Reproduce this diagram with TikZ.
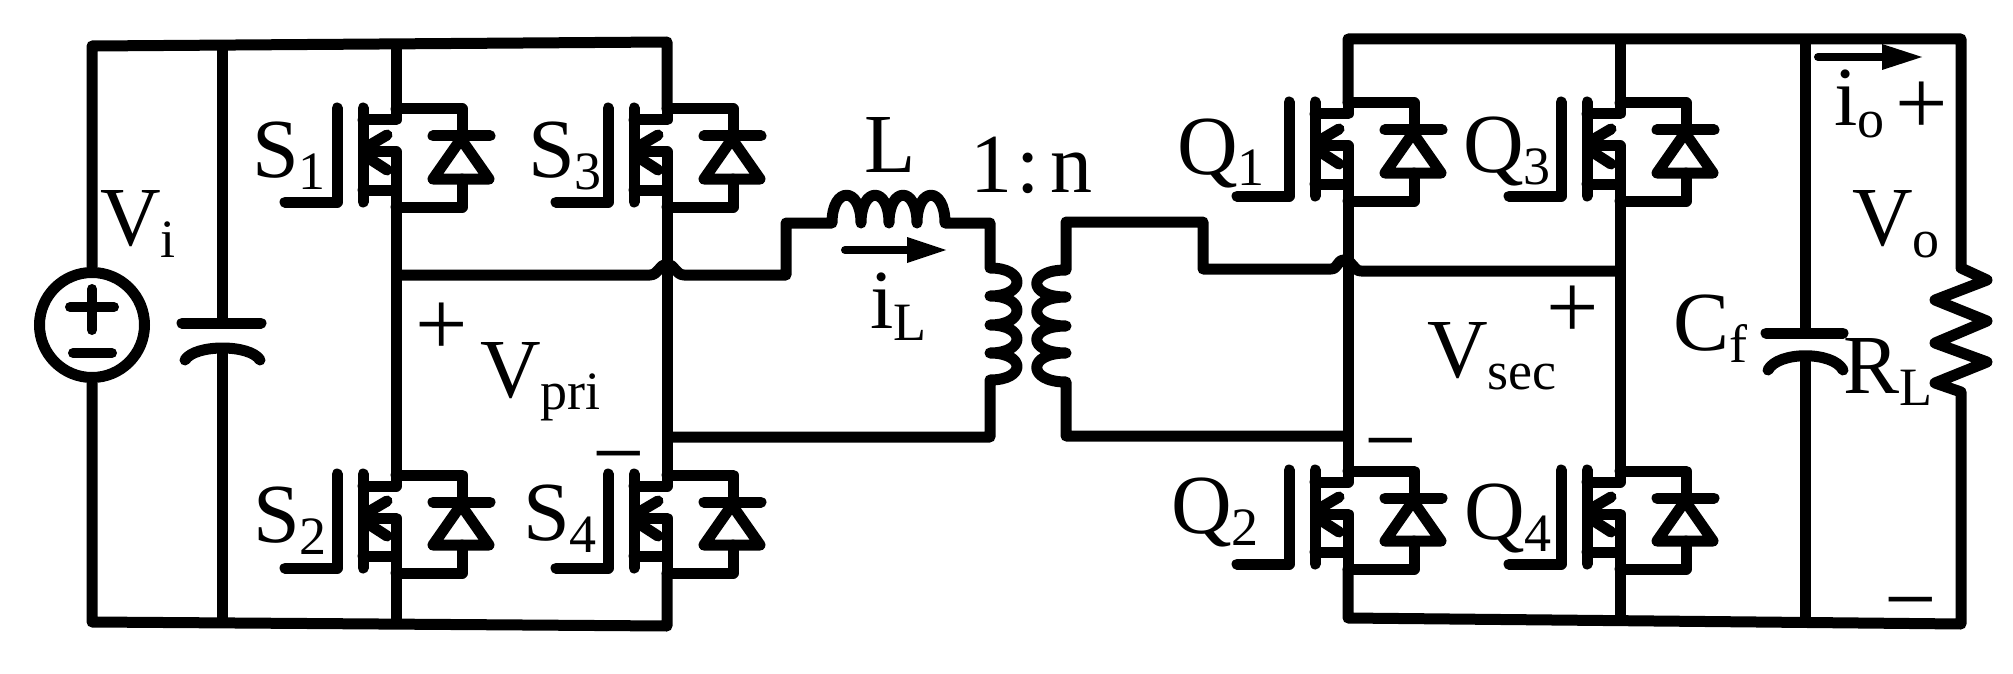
\documentclass[tikz,border=0pt]{standalone}
\usepackage{fontspec}
\setmainfont{Liberation Serif}
\newcommand\sbx[1]{\raisebox{-12pt}{\fontsize{54}{60}\selectfont #1}}
\tikzset{
  wire/.style={line width=11pt,line join=round,line cap=butt},
  rnd/.style={line width=11pt,line join=round,line cap=round},
  lbl/.style={anchor=base west,inner sep=0pt,font=\fontsize{84}{90}\selectfont},
  pol/.style={anchor=center,inner sep=0pt,font=\fontsize{93}{96}\selectfont},
  mos/.pic={
    \coordinate (-d) at (0,0);
    \coordinate (-s) at (0,98);
    % drain stub and source
    \draw[rnd] (-33,11) -- (0,11) -- (0,0);
    \draw[rnd] (0,0) -- (66,0) -- (66,27);
    \draw[rnd] (66,70) -- (66,98) -- (0,98);
    % body
    \draw[rnd] (-25,43) -- (0,43) -- (0,98);
    \draw[rnd] (-33,81) -- (0,81);
    % channel and gate
    \draw[rnd] (-33,-1) -- (-33,93);
    \draw[rnd] (-59,-1) -- (-59,93) -- (-111,93);
    % chevrons
    \draw[rnd] (-9,26) -- (-26,36);
    \draw[rnd] (-9,61) -- (-26,50);
    % diode
    \draw[rnd] (37,27) -- (94,27);
    \draw[rnd] (65,30) -- (37,70) -- (93,70) -- cycle;
  }
}
\begin{document}
\begin{tikzpicture}[x=1pt,y=-1pt]
\path[fill=white,use as bounding box] (0,0) rectangle (2013,674);

% switches
\pic (s1) at (396,109) {mos};
\pic (s3) at (667,109) {mos};
\pic (s2) at (396,475) {mos};
\pic (s4) at (667,475) {mos};
\pic (q1) at (1348,103) {mos};
\pic (q3) at (1620,103) {mos};
\pic (q2) at (1348,471) {mos};
\pic (q4) at (1620,471) {mos};

% input source
\node[circle,draw,line width=11pt,minimum size=105pt,inner sep=0pt] (vi) at (92,325) {};
\draw[rnd,line width=10pt] (70,307) -- (114,307);
\draw[rnd,line width=10pt] (92,289) -- (92,330);
\draw[rnd,line width=10pt] (73,353) -- (112,353);

% primary rails
\coordinate (lt) at (92,46);
\coordinate (lb) at (92,622);
\coordinate (rt) at (667,42);
\coordinate (rb) at (667,626);
\coordinate (ct) at (222,45);
\coordinate (cb) at (222,622);
\coordinate (cp1) at (222,323);
\coordinate (cp2) at (222,348);
\coordinate (a1) at (396,44);
\coordinate (a2) at (396,624);
\draw[wire] (vi.north) -- (lt) -- (rt) -- (s3-d);
\draw[wire] (vi.south) -- (lb) -- (rb) -- (s4-s);
\draw[wire] (ct) -- (cp1);
\draw[wire] (cb) -- (cp2);
\draw[wire] (a1) -- (s1-d);
\draw[wire] (s1-s) -- (s2-d);
\draw[wire] (s2-s) -- (a2);
\draw[wire] (s3-s) -- (s4-d);
% input capacitor
\coordinate (cp1l) at (182,323);
\coordinate (cp1r) at (261,323);
\draw[rnd] (cp1l) -- (cp1r);
\coordinate (cp2l) at (185,360);
\coordinate (cp2r) at (260,360);
\draw[rnd] (cp2l) .. controls (195,344) and (250,344) .. (cp2r);

% primary loop
\coordinate (m0) at (396,275);
\coordinate (h1) at (650,275);
\coordinate (h2) at (684,275);
\coordinate (m1) at (786,275);
\coordinate (m2) at (786,223);
\coordinate (l1) at (832,223);
\coordinate (l2) at (945,223);
\coordinate (m3) at (990,223);
\coordinate (p1) at (990,268);
\coordinate (p2) at (990,380);
\coordinate (m4) at (990,437);
\coordinate (m5) at (667,437);
\draw[wire] (m0) -- (h1)
  .. controls (658,275) and (660,264) .. (667,264)
  .. controls (674,264) and (676,275) .. (h2)
  -- (m1) -- (m2) -- (l1)
  .. controls (832,186) and (861,186) .. (861,223)
  .. controls (861,186) and (889,186) .. (889,223)
  .. controls (889,186) and (917,186) .. (917,223)
  .. controls (917,186) and (945,186) .. (l2)
  -- (m3) -- (p1)
  .. controls (1026,268) and (1026,296) .. (990,296)
  .. controls (1026,296) and (1026,325) .. (990,325)
  .. controls (1026,325) and (1026,353) .. (990,353)
  .. controls (1026,353) and (1026,380) .. (p2)
  -- (m4) -- (m5);

% secondary loop
\coordinate (t1) at (1066,270);
\coordinate (t2) at (1066,382);
\coordinate (n1) at (1066,222);
\coordinate (n2) at (1203,222);
\coordinate (n3) at (1203,269);
\coordinate (h3) at (1331,269);
\coordinate (h4) at (1361,271);
\coordinate (n4) at (1620,271);
\coordinate (n5) at (1066,436);
\coordinate (n6) at (1348,436);
\draw[wire] (n4) -- (h4)
  .. controls (1353,271) and (1353,260) .. (1344,260)
  .. controls (1337,260) and (1338,269) .. (h3)
  -- (n3) -- (n2) -- (n1) -- (t1)
  .. controls (1027,270) and (1027,297) .. (1066,297)
  .. controls (1027,297) and (1027,326) .. (1066,326)
  .. controls (1027,326) and (1027,353) .. (1066,353)
  .. controls (1027,353) and (1027,382) .. (t2)
  -- (n5) -- (n6);

% secondary rails
\coordinate (rrt) at (1961,39);
\coordinate (qt) at (1348,39);
\coordinate (qb) at (1348,618);
\coordinate (rrb) at (1961,624);
\coordinate (z0) at (1961,268);
\coordinate (z7) at (1961,392);
\coordinate (qc) at (1620,39);
\coordinate (qd) at (1620,620);
\coordinate (ft) at (1805,39);
\coordinate (fb) at (1805,622);
\coordinate (f1) at (1805,333);
\coordinate (f2) at (1805,360);
\draw[wire] (q1-d) -- (qt) -- (rrt) -- (z0)
  -- (1987,280) -- (1935,300) -- (1987,321) -- (1935,343) -- (1987,362) -- (1935,383)
  -- (z7) -- (rrb) -- (qb) -- (q2-s);
\draw[wire] (qc) -- (q3-d);
\draw[wire] (q3-s) -- (q4-d);
\draw[wire] (q4-s) -- (qd);
\draw[wire] (q1-s) -- (q2-d);
\draw[wire] (ft) -- (f1);
\draw[wire] (fb) -- (f2);
% output capacitor
\coordinate (f1l) at (1766,333);
\coordinate (f1r) at (1843,333);
\draw[rnd] (f1l) -- (f1r);
\coordinate (f2l) at (1768,370);
\coordinate (f2r) at (1843,370);
\draw[rnd] (f2l) .. controls (1778,351) and (1833,351) .. (f2r);

% current arrows
\coordinate (ia) at (845,250);
\coordinate (ib) at (910,250);
\coordinate (ic) at (946,250);
\draw[line width=8pt,line cap=round] (ia) -- (ib);
\fill (ic) -- (907,237) -- (907,263) -- cycle;
\coordinate (oa) at (1818,57);
\coordinate (ob) at (1885,57);
\coordinate (oc) at (1922,57);
\draw[line width=8pt,line cap=round] (oa) -- (ob);
\fill (oc) -- (1882,44) -- (1882,70) -- cycle;

% labels
\node[lbl] (lVi) at (100,245) {V\sbx{i}};
\node[lbl] (lS1) at (252,177) {S\sbx{1}};
\node[lbl] (lS3) at (528,177) {S\sbx{3}};
\node[lbl] (lS2) at (253,542) {S\sbx{2}};
\node[lbl] (lS4) at (523,540) {S\sbx{4}};
\node[lbl] (lL) at (864,172) {L};
\node[lbl] (ln) at (970,193) {\spaceskip=4pt 1 : n};
\node[lbl] (liL) at (870,328) {i\sbx{L}};
\node[lbl] (lVp) at (480,397) {V\sbx{pri}};
\node[pol] (pp) at (442,329) {+};
\node[pol] (pm) at (619,468) {−};
\node[lbl] (lQ1) at (1177,174) {Q\sbx{1}};
\node[lbl] (lQ3) at (1463,172) {Q\sbx{3}};
\node[lbl] (lQ2) at (1171,533) {Q\sbx{2}};
\node[lbl] (lQ4) at (1464,539) {Q\sbx{4}};
\node[lbl] (lVs) at (1427,377) {V\sbx{sec}};
\node[pol] (sp) at (1573,312) {+};
\node[pol] (sm) at (1391,455) {−};
\node[lbl] (lCf) at (1673,350) {C\sbx{f}};
\node[lbl] (lRL) at (1843,393) {R\sbx{L}};
\node[lbl] (lVo) at (1852,245) {V\sbx{o}};
\node[lbl] (lio) at (1834,126) {i\sbx{o}};
\node[pol] (op) at (1922,108) {+};
\node[pol] (om) at (1911,614) {−};
\end{tikzpicture}
\end{document}
